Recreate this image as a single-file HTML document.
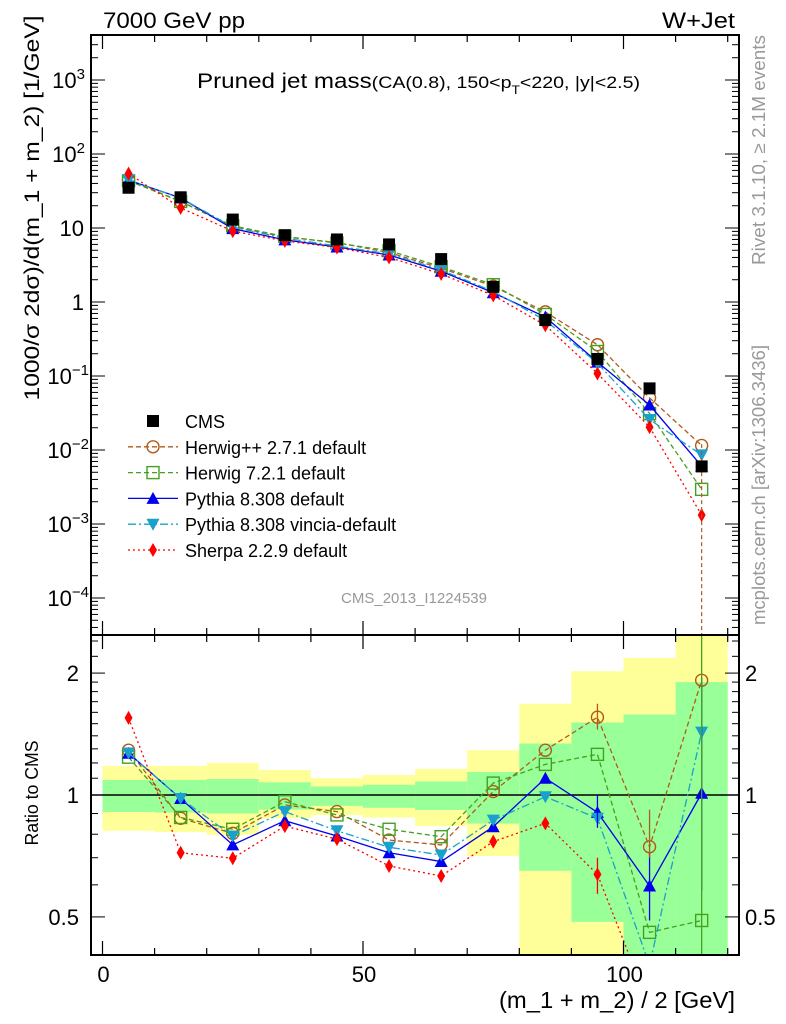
<!DOCTYPE html>
<html><head><meta charset="utf-8">
<style>
html,body{margin:0;padding:0;background:#fff;}
svg{display:block;font-family:"Liberation Sans",sans-serif;}
</style></head>
<body>
<svg id="c" width="786" height="1024" viewBox="0 0 786 1024" xmlns="http://www.w3.org/2000/svg">
<g id="bands"></g>
<g id="ratio"></g>
<g id="main"></g>
<g id="axes"></g>
<text x="103" y="28" font-size="22" textLength="142" lengthAdjust="spacingAndGlyphs">7000 GeV pp</text>
<text x="662" y="28" font-size="22" textLength="73" lengthAdjust="spacingAndGlyphs">W+Jet</text>
<text x="197" y="88" font-size="21" textLength="443" lengthAdjust="spacingAndGlyphs">Pruned jet mass<tspan font-size="17">(CA(0.8), 150&lt;p</tspan><tspan font-size="12" dy="6">T</tspan><tspan font-size="17" dy="-6">&lt;220, |y|&lt;2.5)</tspan></text>
<text x="414" y="603" font-size="15" fill="#999" text-anchor="middle">CMS_2013_I1224539</text>
<text transform="translate(765,150) rotate(-90)" font-size="18" fill="#999" text-anchor="middle" textLength="230" lengthAdjust="spacingAndGlyphs">Rivet 3.1.10, ≥ 2.1M events</text>
<text transform="translate(765,485) rotate(-90)" font-size="18" fill="#999" text-anchor="middle" textLength="280" lengthAdjust="spacingAndGlyphs">mcplots.cern.ch [arXiv:1306.3436]</text>
<text transform="translate(39,208) rotate(-90)" font-size="21" text-anchor="middle" textLength="385" lengthAdjust="spacingAndGlyphs">1000/σ 2dσ)/d(m_1 + m_2) [1/GeV]</text>
<text transform="translate(38,793) rotate(-90)" font-size="18" text-anchor="middle" textLength="105" lengthAdjust="spacingAndGlyphs">Ratio to CMS</text>
<text x="499" y="1008" font-size="23" textLength="236" lengthAdjust="spacingAndGlyphs">(m_1 + m_2) / 2 [GeV]</text>
<g id="legend"></g>
</svg>
<script>
const binCenters=[5,15,25,35,45,55,65,75,85,95,105,115];
const cmsValues=[35,26,13,8,7,6,3.8,1.6,0.57,0.17,0.068,0.006];
const herwigppRatio=[1.29,0.876,0.804,0.945,0.91,0.774,0.753,1.02,1.29,1.556,0.745,1.92];
const herwig7Ratio=[1.24,0.88,0.823,0.963,0.893,0.823,0.789,1.07,1.19,1.26,0.458,0.49];
const pythiaRatio=[1.268,0.98,0.753,0.864,0.792,0.72,0.685,0.835,1.1,0.906,0.596,1.01];
const vinciaRatio=[1.27,0.98,0.792,0.91,0.816,0.743,0.711,0.867,0.99,0.876,0.38,1.43];
const sherpaRatio=[1.55,0.72,0.698,0.838,0.778,0.668,0.631,0.767,0.851,0.637,0.30,0.22];
const bandYellowHi=[1.18,1.18,1.2,1.153,1.10,1.12,1.16,1.29,1.68,2.02,2.18,2.6];
const bandYellowLo=[0.816,0.81,0.797,0.876,0.893,0.88,0.838,0.707,0.3,0.3,0.3,0.3];
const bandGreenHi=[1.089,1.09,1.095,1.075,1.05,1.06,1.08,1.14,1.34,1.51,1.58,1.90];
const bandGreenLo=[0.908,0.905,0.90,0.92,0.94,0.93,0.918,0.85,0.65,0.486,0.3,0.3];
const xTicks=[0,50,100];
const yDecades=[-4,-3,-2,-1,0,1,2,3];
const ratioTicks=[0.5,1,2];

const NS="http://www.w3.org/2000/svg";
const L=91,R=739,T=35,M=635,B=955;
const X=v=>102.5+v*5.21;
const Y=v=>302-74*Math.log10(v);
const RY=v=>795-405*Math.log10(v);
function mk(tag,attrs,parent){const e=document.createElementNS(NS,tag);for(const k in attrs)e.setAttribute(k,attrs[k]);parent.appendChild(e);return e;}
const clampR=v=>Math.min(Math.max(RY(v),M-20),B+20);

const bands=document.getElementById('bands');
binCenters.forEach((c,i)=>{
  const x1=X(c-5),x2=Math.min(X(c+5),R);
  const y1=Math.max(RY(bandYellowHi[i]),M),y2=Math.min(RY(bandYellowLo[i]),B);
  let r=mk('rect',{x:x1,y:y1,width:x2-x1,height:y2-y1,fill:'#ffff99'},bands);
  
  
  const g1=Math.max(RY(bandGreenHi[i]),M),g2=Math.min(RY(bandGreenLo[i]),B);
  r=mk('rect',{x:x1,y:g1,width:x2-x1,height:g2-g1,fill:'#99ff99'},bands);
  
  
});
let ln=mk('line',{x1:L,x2:R,y1:RY(1),y2:RY(1),stroke:'#000','stroke-width':1.5},bands);



const series=[
 {name:'herwigpp',ratio:herwigppRatio,color:'#b35a1a',dash:'5,3',marker:'circle',label:'Herwig++ 2.7.1 default'},
 {name:'herwig7',ratio:herwig7Ratio,color:'#44a020',dash:'5,3',marker:'square',label:'Herwig 7.2.1 default'},
 {name:'pythia',ratio:pythiaRatio,color:'#0000ee',dash:'',marker:'tri',label:'Pythia 8.308 default'},
 {name:'vincia',ratio:vinciaRatio,color:'#1aa0cc',dash:'8,3,2,3',marker:'tridown',label:'Pythia 8.308 vincia-default'},
 {name:'sherpa',ratio:sherpaRatio,color:'#ff0000',dash:'2,3',marker:'diamond',label:'Sherpa 2.2.9 default'}
];
function marker(type,x,y,color,parent){
  let e;
  if(type==='circle')e=mk('circle',{cx:x,cy:y,r:6,fill:'none',stroke:color,'stroke-width':1.4},parent);
  else if(type==='square')e=mk('rect',{x:x-6,y:y-6,width:12,height:12,fill:'none',stroke:color,'stroke-width':1.4},parent);
  else if(type==='tri')e=mk('path',{d:`M${x},${y-6.5}L${x+6.5},${y+5.5}L${x-6.5},${y+5.5}Z`,fill:color},parent);
  else if(type==='tridown')e=mk('path',{d:`M${x},${y+6.5}L${x+6.5},${y-5.5}L${x-6.5},${y-5.5}Z`,fill:color},parent);
  else if(type==='diamond')e=mk('path',{d:`M${x},${y-7}L${x+4},${y}L${x},${y+7}L${x-4},${y}Z`,fill:color},parent);
  else e=mk('rect',{x:x-6,y:y-6,width:12,height:12,fill:color},parent);
  return e;
}
const clip=mk('clipPath',{id:'ratioclip'},document.getElementById('c'));
mk('rect',{x:L,y:M,width:R-L,height:B-M},clip);
const clip2=mk('clipPath',{id:'mainclip'},document.getElementById('c'));
mk('rect',{x:L,y:T,width:R-L,height:M-T},clip2);
const rg=document.getElementById('ratio');rg.setAttribute('clip-path','url(#ratioclip)');
const mg=document.getElementById('main');mg.setAttribute('clip-path','url(#mainclip)');
series.forEach(s=>{
  const rp=binCenters.map((c,i)=>`${X(c)},${RY(s.ratio[i])}`).join(' ');
  let p=mk('polyline',{points:rp,fill:'none',stroke:s.color,'stroke-width':1.3,'stroke-dasharray':s.dash},rg);
  
  
  const mp=binCenters.map((c,i)=>`${X(c)},${Y(cmsValues[i]*s.ratio[i])}`).join(' ');
  p=mk('polyline',{points:mp,fill:'none',stroke:s.color,'stroke-width':1.3,'stroke-dasharray':s.dash},mg);
  
  
  binCenters.forEach((c,i)=>{
    let m=marker(s.marker,X(c),RY(s.ratio[i]),s.color,rg);
    
    
    m=marker(s.marker,X(c),Y(cmsValues[i]*s.ratio[i]),s.color,mg);
    
    
  });
});
[[105,0.49,0.72,'#0000ee'],[115,0.58,1.95,'#0000ee'],[95,0.83,1.0,'#0000ee'],[115,0.3,2.6,'#44a020'],[95,1.45,1.68,'#b35a1a'],[105,0.7,0.92,'#b35a1a'],[95,0.57,0.7,'#ff0000']].forEach(e=>{
  const l=mk('line',{x1:X(e[0]),x2:X(e[0]),y1:clampR(e[2]),y2:clampR(e[1]),stroke:e[3],'stroke-width':1.3},rg);
  
  
});
let el=mk('line',{x1:X(115),x2:X(115),y1:Y(0.012),y2:M,stroke:'#b35a1a','stroke-width':1.2,'stroke-dasharray':'4,3'},mg);


binCenters.forEach((c,i)=>{
  const m=marker('sq',X(c),Y(cmsValues[i]),'#000',mg);
  
  
});

const ax=document.getElementById('axes');
mk('rect',{x:L,y:T,width:R-L,height:B-T,fill:'none',stroke:'#000','stroke-width':2},ax);
mk('line',{x1:L,x2:R,y1:M,y2:M,stroke:'#000','stroke-width':2},ax);
for(let v=0;v<=120;v+=10){
  const big=v%50===0;
  [[T,1],[M,-1],[M,1],[B,-1]].forEach(([y,d])=>{
    mk('line',{x1:X(v),x2:X(v),y1:y,y2:y+d*(big?14:7),stroke:'#000','stroke-width':1.2},ax);
  });
}
xTicks.forEach(v=>{
  const t=mk('text',{x:X(v)+1,y:982,'font-size':22,'text-anchor':'middle'},ax);t.textContent=v;
  
  
});
for(let d=-5;d<=3;d++){
  for(let k=1;k<10;k++){
    const y=Y(k*Math.pow(10,d));if(y<T||y>M)continue;
    const len=k===1?14:7;
    mk('line',{x1:L,x2:L+len,y1:y,y2:y,stroke:'#000','stroke-width':1},ax);
    mk('line',{x1:R,x2:R-len,y1:y,y2:y,stroke:'#000','stroke-width':1},ax);
  }
}
yDecades.forEach(d=>{
  const t=mk('text',{x:84,y:Y(Math.pow(10,d))+8,'font-size':22,'text-anchor':'end'},ax);
  
  
  if(d===0)t.textContent='1';else if(d===1)t.textContent='10';
  else{t.textContent='10';const s=document.createElementNS(NS,'tspan');s.setAttribute('dy','-9');s.setAttribute('font-size','15');s.textContent=String(d).replace('-','−');t.appendChild(s);
    t.setAttribute('x',d<0?89:85);}
});
[0.4,0.5,0.6,0.7,0.8,0.9,1,1.1,1.2,1.3,1.4,1.5,1.6,1.7,1.8,1.9,2,2.2,2.4].forEach(v=>{
  const y=RY(v);if(y<M||y>B)return;
  const len=ratioTicks.includes(v)?14:7;
  mk('line',{x1:L,x2:L+len,y1:y,y2:y,stroke:'#000','stroke-width':1},ax);
  mk('line',{x1:R,x2:R-len,y1:y,y2:y,stroke:'#000','stroke-width':1},ax);
});
ratioTicks.forEach(v=>{
  let t=mk('text',{x:79,y:RY(v)+8,'font-size':22,'text-anchor':'end'},ax);t.textContent=v;
  
  
  t=mk('text',{x:745,y:RY(v)+8,'font-size':22},ax);t.textContent=v;
  
  
});

const lg=document.getElementById('legend');
const rows=[{color:'#000',dash:'',marker:'sq',label:'CMS',line:false}].concat(series.map(s=>({...s,line:true})));
rows.forEach((r,i)=>{
  const y=421+i*25.8;
  const g=mk('g',{},lg);
  
  
  if(r.line)mk('line',{x1:128,x2:178,y1:y,y2:y,stroke:r.color,'stroke-width':1.3,'stroke-dasharray':r.dash},g);
  marker(r.marker,153,y,r.color,g);
  const t=mk('text',{x:185,y:y+7,'font-size':18},g);t.textContent=r.label;
});
</script>
</body></html>
